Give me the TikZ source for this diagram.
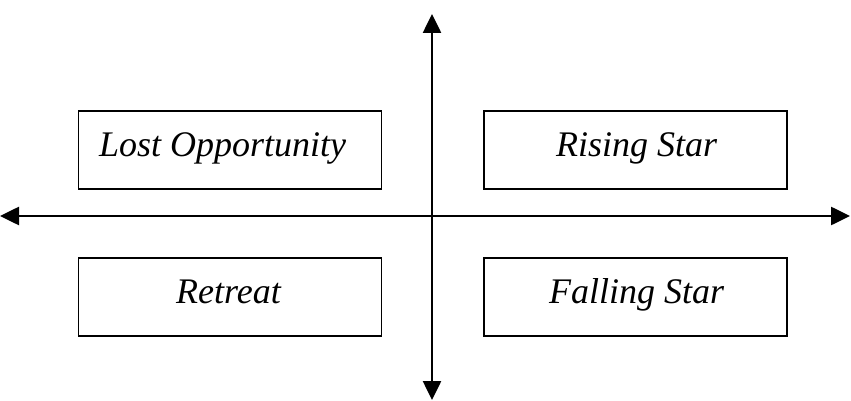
\documentclass[tikz,border=0pt]{standalone}
\usepackage{fontspec}
\setmainfont{Liberation Serif}
\usetikzlibrary{arrows.meta}
\begin{document}
\begin{tikzpicture}[x=1pt,y=-1pt,
  quad/.style={draw,line width=1.6pt,minimum width=303pt,minimum height=78pt,inner sep=0pt},
  lbl/.style={font=\fontsize{36}{40}\selectfont\itshape,anchor=base west,inner sep=0pt},
  axis/.style={line width=2.6pt,-{Triangle[width=18pt,length=19pt]}}]
\useasboundingbox (0,0) rectangle (851,401);
\node[quad] (lo) at (230,150) {};
\node[quad] (rs) at (635.5,150) {};
\node[quad] (rt) at (230,297) {};
\node[quad] (fs) at (635.5,297) {};
\node[lbl] (tlo) at (99,157) {Lost Opportunity};
\node[lbl] (trs) at (556,157) {Rising Star};
\node[lbl] (trt) at (176,303) {Retreat};
\node[lbl] (tfs) at (549,303) {Falling Star};
\coordinate (c) at (432,216);
\coordinate (t) at (432,14);
\coordinate (b) at (432,400);
\coordinate (l) at (0,216);
\coordinate (r) at (850,216);
\draw[axis] (c) -- (t);
\draw[axis] (c) -- (b);
\draw[axis] (c) -- (l);
\draw[axis] (c) -- (r);
\end{tikzpicture}
\end{document}
